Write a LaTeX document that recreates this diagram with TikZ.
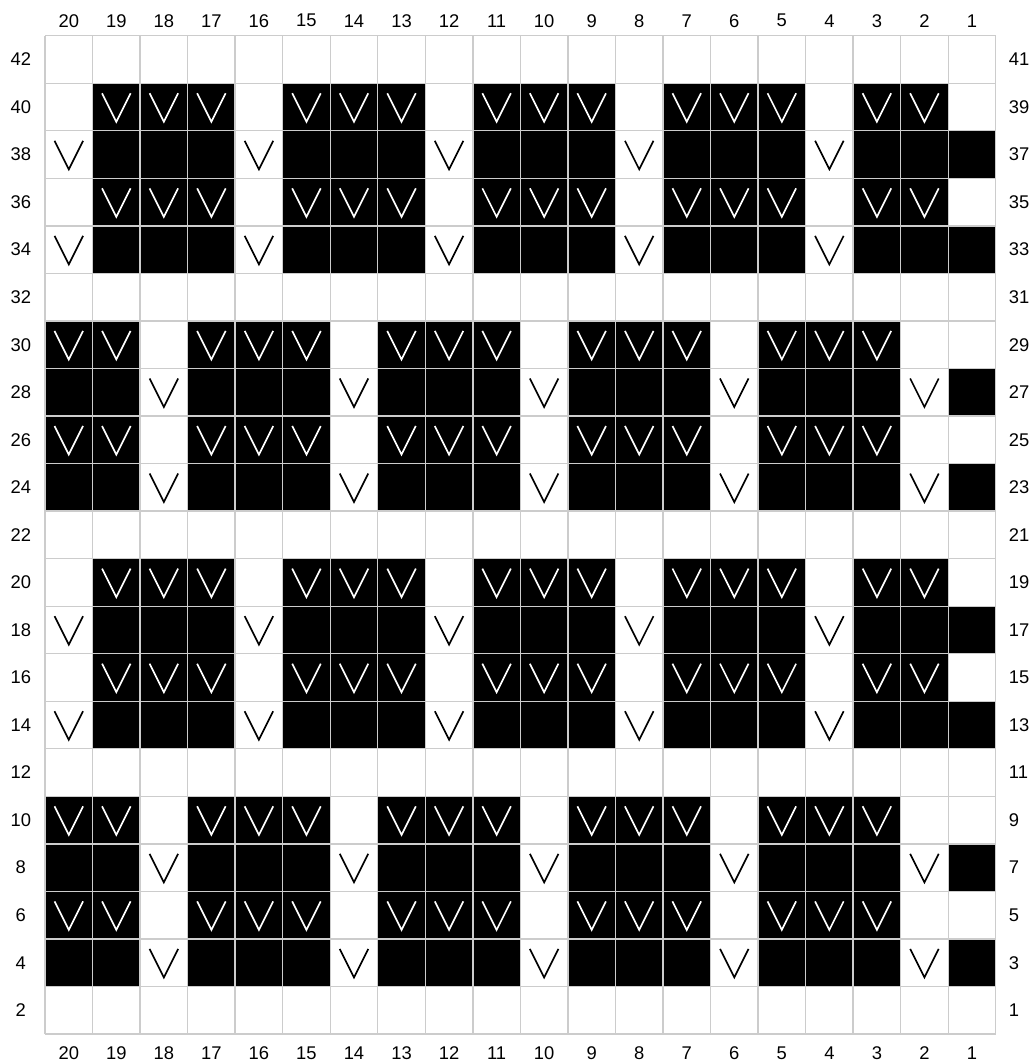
\documentclass[tikz,border=0pt]{standalone}
\usepackage{fontspec}
\setsansfont{Liberation Sans}
\definecolor{chartgrid}{HTML}{CCCCCC}
\definecolor{chartink}{HTML}{000000}
\tikzset{
  font=\sffamily\fontsize{11}{13}\selectfont,
  cellfill/.style={fill=chartink},
  gridline/.style={draw=chartgrid,line width=0.8pt},
  slipmark/.style={line width=1pt},
  numlbl/.style={inner sep=0pt,text=black},
}

\begin{document}
\begin{tikzpicture}
  \useasboundingbox (-0.947,-0.589) rectangle (20.695,21.752);

  % ===== slip rows: black stitches, every fourth one slipped (white, V) =====
  \foreach \r/\o in {1/2,3/2,6/0,8/0,11/2,13/2,16/0,18/0}{
    \foreach \c in {1,...,20}{
      \pgfmathtruncatemacro{\m}{mod(\c,4)}
      \pgfmathtruncatemacro{\x}{20-\c}
      \ifnum\m=\o
        \draw[slipmark,draw=black] (\x+0.2,\r+0.79) -- ++(0.3,-0.6) -- ++(0.3,0.6);
      \else
        \fill[cellfill] (\x,\r) rectangle ++(1,1);
      \fi
    }
  }

  % ===== bar rows: black with white V, gap every fourth stitch and at 1 =====
  \foreach \r/\o in {2/2,4/2,7/0,9/0,12/2,14/2,17/0,19/0}{
    \foreach \c in {2,...,20}{
      \pgfmathtruncatemacro{\m}{mod(\c,4)}
      \pgfmathtruncatemacro{\x}{20-\c}
      \ifnum\m=\o\relax\else
        \fill[cellfill] (\x,\r) rectangle ++(1,1);
        \draw[slipmark,draw=white] (\x+0.2,\r+0.79) -- ++(0.3,-0.6) -- ++(0.3,0.6);
      \fi
    }
  }

  % grid over the cells
  \draw[gridline] (0,0) grid (20,21);

  % ===== stitch numbers =====
  \foreach \c in {1,...,20}{
    \node[numlbl] (top\c) at (20.5-\c,21.316) {\c};
    \node[numlbl] (bot\c) at (20.5-\c,-0.4) {\c};
  }
  % ===== row numbers: even on the left, odd on the right =====
  \foreach \r in {0,...,20}{
    \pgfmathtruncatemacro{\ev}{2*\r+2}
    \pgfmathtruncatemacro{\od}{2*\r+1}
    \node[numlbl] (left\ev) at (-0.51,\r+0.5) {\ev};
    \node[numlbl,anchor=west] (right\od) at (20.27,\r+0.5) {\od};
  }
\end{tikzpicture}
\end{document}
